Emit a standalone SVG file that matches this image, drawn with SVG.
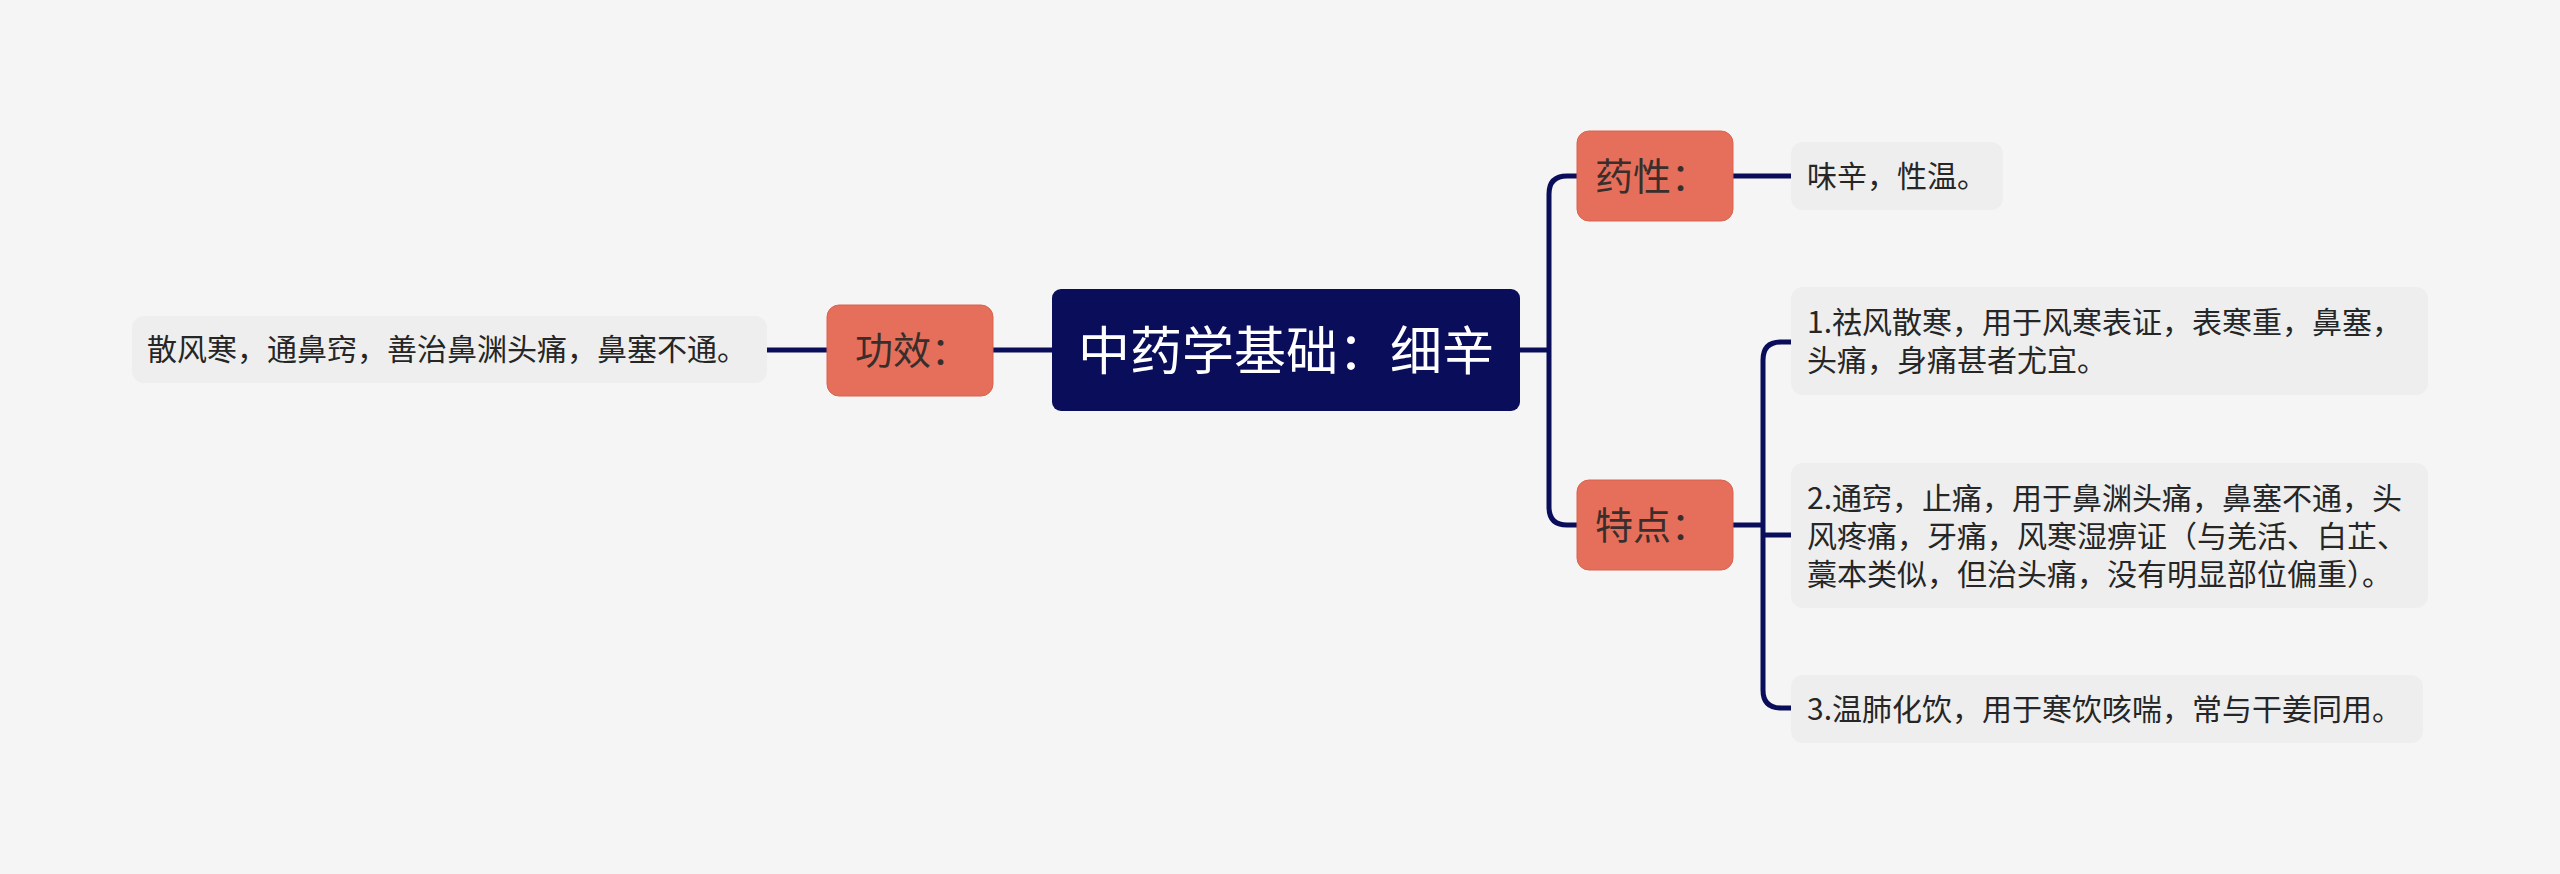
<svg xmlns="http://www.w3.org/2000/svg" width="2560" height="874" viewBox="0 0 2560 874">
<style>
.bg{fill:#f5f5f5}
.conn{fill:none;stroke:#0a0e5a;stroke-width:5;stroke-linecap:butt}
.root{fill:#0a0e5a}
.rootT{font-family:"Noto Sans CJK SC","Noto Sans",sans-serif;font-size:52px;fill:#ffffff}
.lab{fill:#e66f5b;stroke:#d8634f;stroke-width:1}
.labT{font-family:"Noto Sans CJK SC","Noto Sans",sans-serif;font-size:38px;fill:#3a2e2c}
.leaf{fill:#eeeeee}
.leafT{font-family:"Noto Sans CJK SC","Noto Sans",sans-serif;font-size:30px;fill:#262626}
</style>
<rect class="bg" x="0" y="0" width="2560" height="874"/>
<g id="connectors">
<path class="conn" d="M767 350 H827"/>
<path class="conn" d="M993 350 H1052"/>
<path class="conn" d="M1520 350 H1549"/>
<path class="conn" d="M1577 176 H1567 Q1549 176 1549 194 V507 Q1549 525 1567 525 H1577"/>
<path class="conn" d="M1733 176 H1791"/>
<path class="conn" d="M1733 525 H1763"/>
<path class="conn" d="M1791 342 H1781 Q1763 342 1763 360 V690 Q1763 708 1781 708 H1791"/>
<path class="conn" d="M1763 535 H1791"/>
</g>
<g id="root">
<rect class="root" x="1052" y="289" width="468" height="122" rx="9"/>
<text class="rootT" x="1286" y="370" text-anchor="middle">中药学基础：细辛</text>
</g>
<g id="gongxiao">
<rect class="lab" x="827" y="305" width="166" height="91" rx="12"/>
<text class="labT" x="855" y="364">功效：</text>
</g>
<g id="gongxiao-leaf">
<rect class="leaf" x="132" y="316" width="635" height="67" rx="12"/>
<text class="leafT" x="147" y="360">散风寒，通鼻窍，善治鼻渊头痛，鼻塞不通。</text>
</g>
<g id="yaoxing">
<rect class="lab" x="1577" y="131" width="156" height="90" rx="12"/>
<text class="labT" x="1595" y="190">药性：</text>
</g>
<g id="yaoxing-leaf">
<rect class="leaf" x="1791" y="142" width="212" height="68" rx="12"/>
<text class="leafT" x="1807" y="187">味辛，性温。</text>
</g>
<g id="tedian">
<rect class="lab" x="1577" y="480" width="156" height="90" rx="12"/>
<text class="labT" x="1595" y="539">特点：</text>
</g>
<g id="tedian-1">
<rect class="leaf" x="1791" y="287" width="637" height="108" rx="12"/>
<text class="leafT" x="1807" y="333">1.祛风散寒，用于风寒表证，表寒重，鼻塞，</text>
<text class="leafT" x="1807" y="371">头痛，身痛甚者尤宜。</text>
</g>
<g id="tedian-2">
<rect class="leaf" x="1791" y="463" width="637" height="145" rx="12"/>
<text class="leafT" x="1807" y="509">2.通窍，止痛，用于鼻渊头痛，鼻塞不通，头</text>
<text class="leafT" x="1807" y="547">风疼痛，牙痛，风寒湿痹证（与羌活、白芷、</text>
<text class="leafT" x="1807" y="585">藁本类似，但治头痛，没有明显部位偏重）。</text>
</g>
<g id="tedian-3">
<rect class="leaf" x="1791" y="675" width="632" height="68" rx="12"/>
<text class="leafT" x="1807" y="720">3.温肺化饮，用于寒饮咳喘，常与干姜同用。</text>
</g>
</svg>
